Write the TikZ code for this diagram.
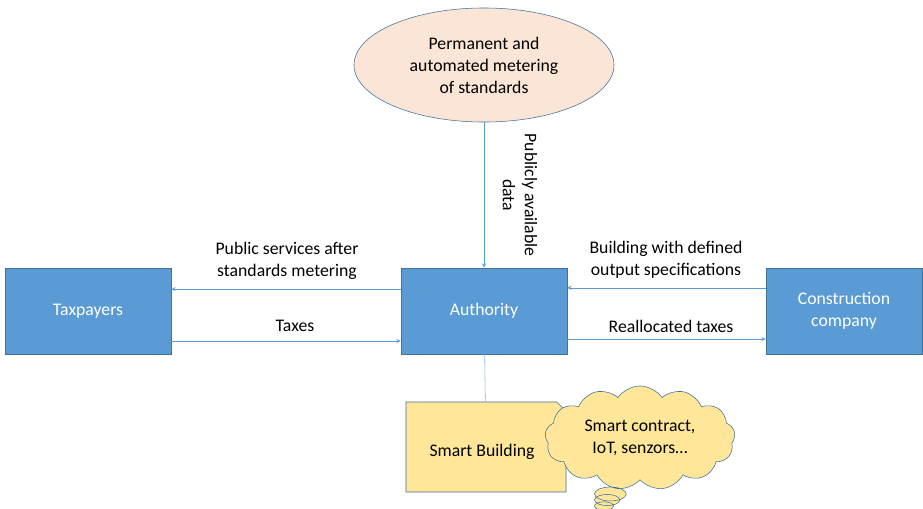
\documentclass[tikz,border=0pt]{standalone}
\usepackage{fontspec}
\setmainfont{Carlito}
\usetikzlibrary{shapes.geometric, shapes.symbols, shapes.misc, shapes.callouts}
\definecolor{boxblue}{HTML}{5B9BD5}
\definecolor{edgeblue}{HTML}{41719C}
\definecolor{peach}{HTML}{FBE5D6}
\definecolor{lightyellow}{HTML}{FFE699}
\begin{document}
\begin{tikzpicture}[x=0.025cm, y=-0.025cm, >=stealth,
    font=\fontsize{12.6}{15.6}\selectfont,
    actor/.style={draw=edgeblue, fill=boxblue, text=white, minimum width=4.15cm, minimum height=2.15cm, align=center},
    flow/.style={->, draw=boxblue, line width=0.4pt},
    lbl/.style={align=center}]
    \useasboundingbox (0,0) rectangle (923,508);
    % Metering ellipse
    \node[ellipse, draw=edgeblue, fill=peach, minimum width=6.5cm, minimum height=2.85cm, align=center] (meter) at (484, 65) {Permanent and\\automated metering\\of standards};

    % Main actors
    \node[actor] (tax) at (88, 311) {Taxpayers};
    \node[actor] (auth) at (484, 311) {Authority};
    \node[actor, minimum width=3.9cm] (build) at (844, 311) {Construction\\company};

    % Smart building with thought cloud
    \node[chamfered rectangle, chamfered rectangle corners=north east, chamfered rectangle sep=0.25cm, draw=edgeblue, fill=lightyellow, minimum width=4cm, minimum height=2.25cm] (smart) at (486, 447) {};
    \node (smarttext) at (482, 452) {Smart Building};
    \node[cloud callout, cloud puffs=13, cloud puff arc=110, aspect=1.8, draw=edgeblue, fill=lightyellow, minimum width=4.75cm, minimum height=2.6cm, inner sep=0pt, callout pointer segments=3, callout absolute pointer={(604,506)}, align=center] (cloud) at (640, 438) {Smart contract,\\IoT, senzors\dots};

    % Flows
    \draw[flow] (meter) -- (auth);
    \node[lbl, rotate=-90] (datalbl) at (520, 195) {Publicly available\\data};
    \draw[flow] ([yshift=0.55cm]auth.west) -- ([yshift=0.55cm]tax.east);
    \node[lbl] (servlbl) at (287, 261) {Public services after\\standards metering};
    \draw[flow] ([yshift=-0.75cm]tax.east) -- ([yshift=-0.75cm]auth.west);
    \node (taxlbl) at (295, 326) {Taxes};
    \draw[flow] ([yshift=0.58cm]build.west) -- ([yshift=0.58cm]auth.east);
    \node[lbl] (speclbl) at (666, 260) {Building with defined\\output specifications};
    \draw[flow] ([yshift=-0.7cm]auth.east) -- ([yshift=-0.7cm]build.west);
    \node (realloclbl) at (671, 326) {Reallocated taxes};
    \draw[draw=boxblue!70] (auth) -- (smart);
\end{tikzpicture}
\end{document}
